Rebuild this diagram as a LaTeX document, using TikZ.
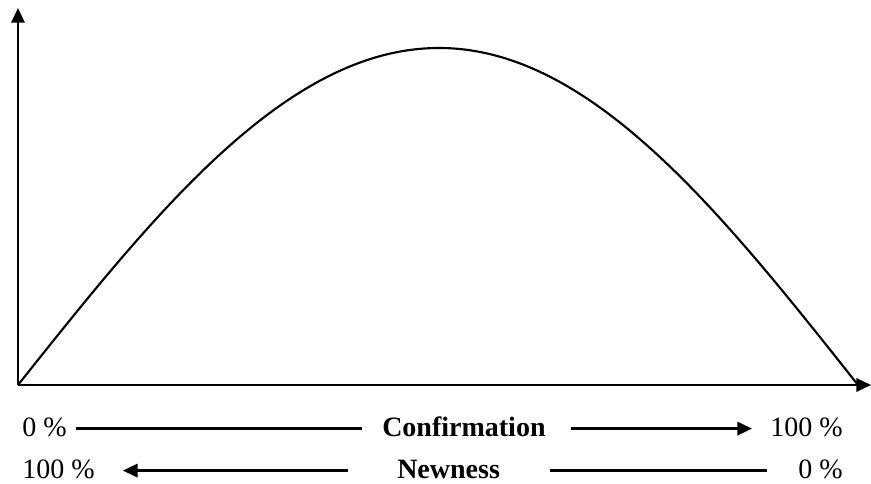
\documentclass[tikz,border=0pt]{standalone}
\usepackage{fontspec}
\setmainfont{Liberation Serif}
\usetikzlibrary{arrows.meta}

\begin{document}
\begin{tikzpicture}[
  x=0.75pt,y=0.75pt,
  >={Triangle[length=11pt,width=10pt]},
  font=\fontsize{21}{25}\selectfont,
  axis/.style={->, line width=1.8pt},
  curve/.style={line width=1.6pt},
  rule/.style={line width=1.8pt},
  scalelabel/.style={inner sep=0pt, text height=12.6pt, text depth=0pt, anchor=base west},
  titlelabel/.style={scalelabel, font=\fontsize{21}{25}\selectfont\bfseries}
]
\path[use as bounding box] (0,0) rectangle (871,484);

% Axes
\coordinate (O)    at (18,99);
\coordinate (Ytop) at (18,476);
\coordinate (Xend) at (871,99);
\draw[axis] (O) -- (Ytop);
\draw[axis] (O) -- (Xend);

% Curve: quarter sine up to the peak, quarter cosine back down
\coordinate (Peak) at (439,436);
\coordinate (Xcut) at (858,99);
\draw[curve] (O) sin (Peak) cos (Xcut);

% Confirmation row
\node[scalelabel] (zeroA)     at (22,47)  {0 \%};
\node[titlelabel] (confirm)   at (382,47) {Confirmation};
\node[scalelabel] (hundredA)  at (770,47) {100 \%};
\draw[rule, shorten <=6.75pt, shorten >=15pt] (zeroA) -- (confirm);
\draw[rule, ->, shorten <=18.75pt, shorten >=13.5pt] (confirm) -- (hundredA);

% Newness row
\node[scalelabel] (hundredB)  at (22,5)   {100 \%};
\node[titlelabel] (newness)   at (397,5)  {Newness};
\node[scalelabel] (zeroB)     at (798,5)  {0 \%};
\draw[rule, ->, shorten <=36.75pt, shorten >=21pt] (newness) -- (hundredB);
\draw[rule, shorten <=37.5pt, shorten >=23.25pt] (newness) -- (zeroB);

\end{tikzpicture}
\end{document}
